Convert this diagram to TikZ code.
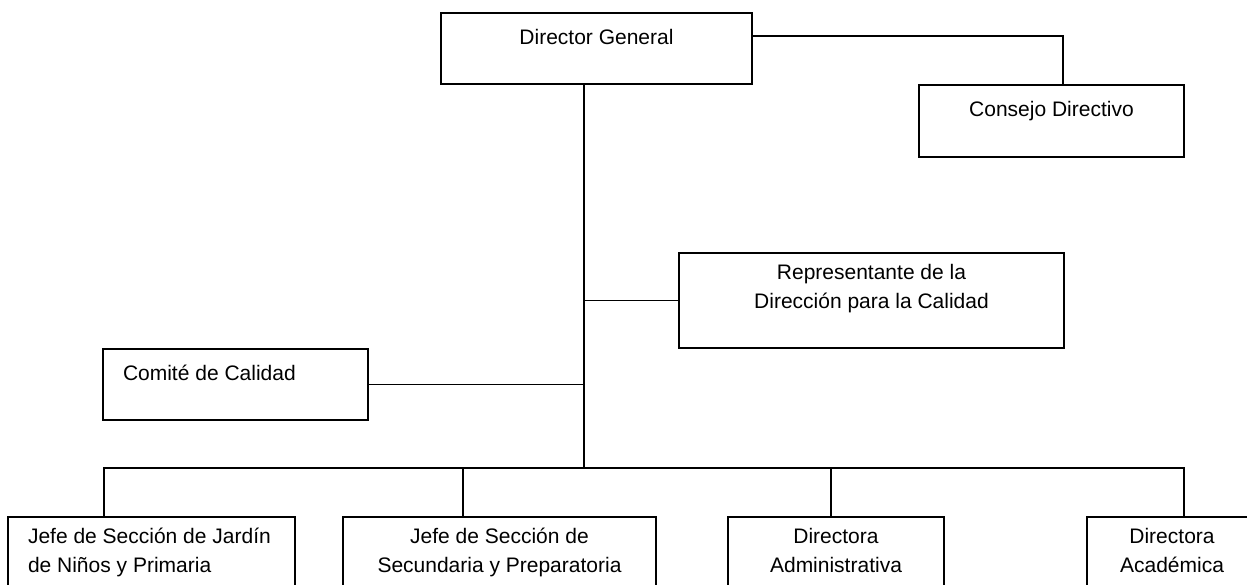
\documentclass[tikz,border=0pt]{standalone}
\usepackage{fontspec}
\setmainfont{Liberation Sans}
\usetikzlibrary{positioning}
\begin{document}
\begin{tikzpicture}[x=1pt,y=-1pt,line width=1.8pt,
    caja/.style={draw,inner sep=0pt},
    txt/.style={inner sep=0pt,font=\fontsize{21}{28.5}\selectfont,align=center,
      execute at begin node=\strut}]
    \useasboundingbox (0,0) rectangle (1247,585);
    \node[caja,minimum width=311,minimum height=71] (dg) at (596.5,48.5) {};
    \node[txt,below=11.5pt of dg.north] (dgtxt) {Director General};
    \node[caja,minimum width=265,minimum height=72] (consejo) at (1051.5,121) {};
    \node[txt,below=11.5pt of consejo.north] (consejotxt) {Consejo Directivo};
    \node[caja,minimum width=385,minimum height=95] (rep) at (871.5,300.5) {};
    \node[txt,below=11.5pt of rep.north] (reptxt) {Representante de la\\Dirección para la Calidad};
    \node[caja,minimum width=265,minimum height=71] (comite) at (235.5,384.5) {};
    \node[txt,below right=11.5pt and 20pt of comite.north west] (comitetxt) {Comité de Calidad};
    \node[caja,minimum width=287,minimum height=83] (jardin) at (151.5,558.5) {};
    \node[txt,align=left,below right=11.5pt and 20pt of jardin.north west] (jardintxt)
      {Jefe de Sección de Jardín\\de Niños y Primaria};
    \node[caja,minimum width=313,minimum height=83] (secundaria) at (499.5,558.5) {};
    \node[txt,below=11.5pt of secundaria.north] (secundariatxt)
      {Jefe de Sección de\\Secundaria y Preparatoria};
    \node[caja,minimum width=216,minimum height=83] (admin) at (836,558.5) {};
    \node[txt,below=11.5pt of admin.north] (admintxt) {Directora\\Administrativa};
    \node[caja,minimum width=170,minimum height=83] (academica) at (1172,558.5) {};
    \node[txt,below=11.5pt of academica.north] (academicatxt) {Directora\\Académica};
    \coordinate (tronco) at (584,468);
    \coordinate (cdir) at (1063,36);
    \coordinate (b1) at (104,468);
    \coordinate (b2) at (463,468);
    \coordinate (b3) at (831,468);
    \coordinate (b4) at (1184,468);
    \draw (dg.south -| tronco) -- (tronco);
    \draw (dg.east |- cdir) -| (consejo.north -| cdir);
    \draw (rep.west) -- (rep.west -| tronco);
    \draw (comite.east) -- (comite.east -| tronco);
    \draw (jardin.north -| b1) -- (b1) -- (b4) -- (academica.north -| b4);
    \draw (b2) -- (secundaria.north -| b2);
    \draw (b3) -- (admin.north -| b3);
\end{tikzpicture}
\end{document}
